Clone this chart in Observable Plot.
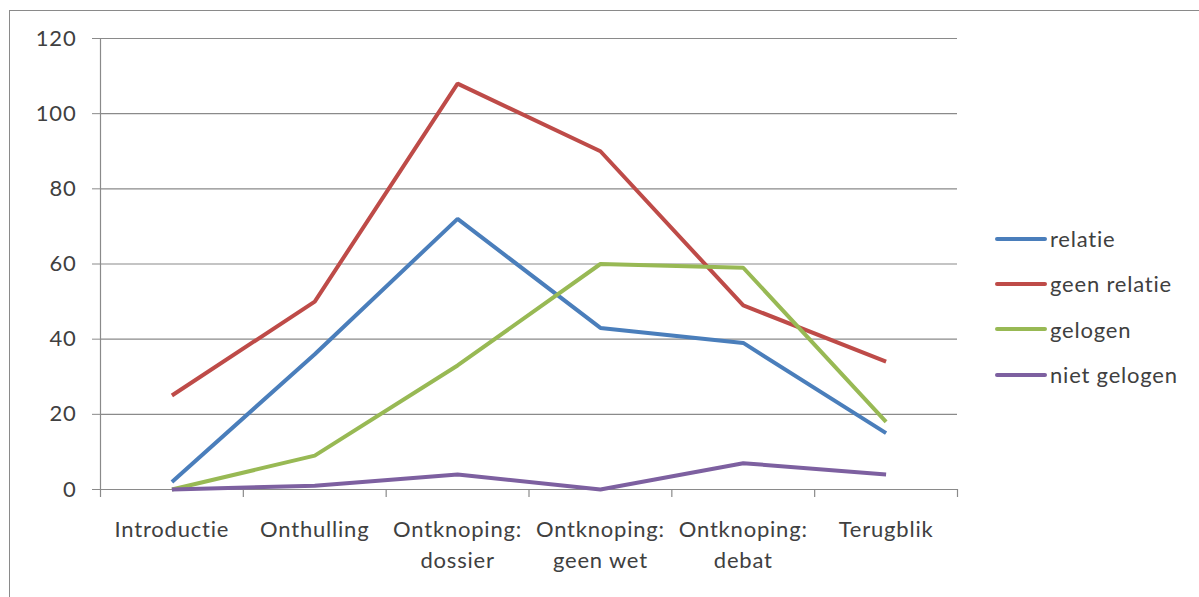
<!DOCTYPE html>
<html>
<head>
<meta charset="utf-8">
<script src="https://cdn.jsdelivr.net/npm/d3@7"></script>
<script src="https://cdn.jsdelivr.net/npm/@observablehq/plot@0.6"></script>
<style>
  html, body { margin: 0; padding: 0; background: #fff; overflow: hidden; }
  #wrap { position: relative; width: 1199px; height: 597px; }
  #frame { position: absolute; left: 9px; top: 10px; width: 1300px; height: 700px; border: 1.5px solid #8a8a8a; box-sizing: border-box; }
  #chart { position: absolute; left: 0; top: 0; }
  #legend { position: absolute; left: 995px; top: 216px; font-family: Lato, "Open Sans", sans-serif; font-size: 22px; letter-spacing: 0.8px; color: #404040; }
  .item { display: flex; align-items: center; height: 45.3px; }
  .sw { width: 52px; height: 4px; border-radius: 2px; margin-right: 3px; }
</style>
</head>
<body>
<div id="wrap">
  <div id="frame"></div>
  <div id="chart"></div>
  <div id="legend"></div>
</div>
<script>
const categories = ["Introductie", "Onthulling", "Ontknoping:\ndossier", "Ontknoping:\ngeen wet", "Ontknoping:\ndebat", "Terugblik"];
const seriesNames = ["relatie", "geen relatie", "gelogen", "niet gelogen"];
const relatie = [2, 36, 72, 43, 39, 15];
const geenRelatie = [25, 50, 108, 90, 49, 34];
const gelogen = [0, 9, 33, 60, 59, 18];
const nietGelogen = [0, 1, 4, 0, 7, 4];
const colors = ["#4a7ebb", "#be4b48", "#98b954", "#7d60a0"];
const yTicks = [0, 20, 40, 60, 80, 100, 120];

const seriesValues = [relatie, geenRelatie, gelogen, nietGelogen];
const rows = [];
seriesValues.forEach((vals, s) => vals.forEach((v, i) => rows.push({series: seriesNames[s], i, value: v})));
const boundaries = d3.range(categories.length + 1).map(k => k - 0.5);

const font = 'Lato, "Open Sans", sans-serif';
const plot = Plot.plot({
  width: 1199,
  height: 597,
  marginLeft: 100,
  marginRight: 242,
  marginTop: 38,
  marginBottom: 108,
  style: {fontFamily: font, fontSize: "22px", letterSpacing: "0.8px", color: "#404040", background: "transparent"},
  x: {type: "linear", domain: [-0.5, categories.length - 0.5], axis: null},
  y: {domain: [0, 120]},
  color: {domain: seriesNames, range: colors},
  marks: [
    Plot.ruleY(yTicks.filter(t => t > 0), {stroke: "#8a8a8a", strokeWidth: 1.2, strokeOpacity: 1}),
    Plot.ruleY([0], {stroke: "#8a8a8a", strokeWidth: 1.2}),
    Plot.ruleX([-0.5], {stroke: "#8a8a8a", strokeWidth: 1.2}),
    Plot.axisY({ticks: yTicks, tickSize: 8, tickPadding: 16, stroke: "#8a8a8a", strokeOpacity: 1, tickFormat: d => String(d), label: null, fill: "#404040"}),
    Plot.ruleX(boundaries, {x: d => d, y1: 0, y2: 0, stroke: "#8a8a8a", strokeWidth: 1.2, insetBottom: -8}),
    Plot.text(categories, {x: (d, i) => i, y: 0, text: d => d, lineAnchor: "top", dy: 26, lineHeight: 1.4, fill: "#404040"}),
    Plot.line(rows, {x: "i", y: "value", z: "series", stroke: "series", strokeWidth: 4, strokeLinejoin: "miter", strokeLinecap: "butt"})
  ]
});
document.getElementById("chart").appendChild(plot);

const legend = document.getElementById("legend");
seriesNames.forEach((name, s) => {
  const item = document.createElement("div");
  item.className = "item";
  const sw = document.createElement("div");
  sw.className = "sw";
  sw.style.background = colors[s];
  const lab = document.createElement("span");
  lab.textContent = name;
  item.appendChild(sw);
  item.appendChild(lab);
  legend.appendChild(item);
});
</script>
</body>
</html>
